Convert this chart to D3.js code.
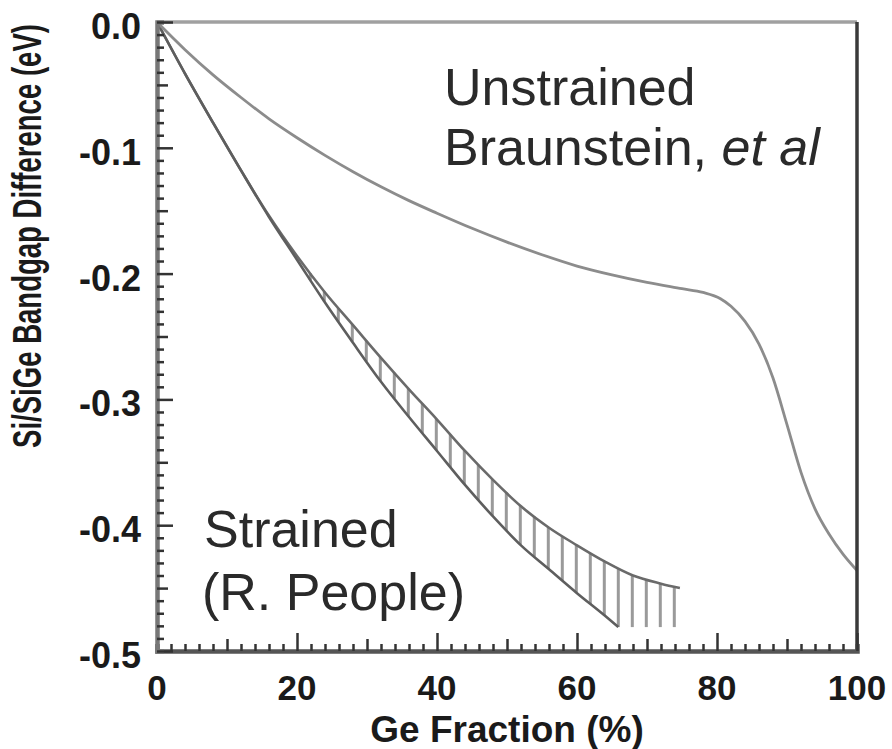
<!DOCTYPE html>
<html><head><meta charset="utf-8">
<script src="https://cdn.jsdelivr.net/npm/d3@7"></script>
<style>body{margin:0;background:#fff} svg{display:block}</style>
</head><body>
<script>
// ---- data ----
const xTickValues = [0, 20, 40, 60, 80, 100];
const xTickLabels = ["0", "20", "40", "60", "80", "100"];
const yTickValues = [0, -0.1, -0.2, -0.3, -0.4, -0.5];
const yTickLabels = ["0.0", "-0.1", "-0.2", "-0.3", "-0.4", "-0.5"];

// Unstrained (Braunstein, et al)
const unstrainedX = [0, 4, 8, 12, 16, 20, 24, 28, 32, 36, 40, 45, 50, 55, 60, 65, 70, 75, 78, 80.5, 82, 84, 86, 88, 90, 92, 94, 96, 98, 100];
const unstrainedY = [0, -0.022, -0.042, -0.060, -0.077, -0.092, -0.106, -0.119, -0.131, -0.142, -0.152, -0.164, -0.175, -0.185, -0.194, -0.201, -0.207, -0.212, -0.215, -0.220, -0.226, -0.238, -0.256, -0.283, -0.320, -0.358, -0.387, -0.407, -0.423, -0.436];

// Strained (R. People) band: upper and lower bounds
const strainedUpperX = [0, 4, 8, 12, 16, 20, 24, 28, 32, 36, 40, 44, 48, 52, 56, 60, 64, 68, 72, 74.7];
const strainedUpperY = [0, -0.041, -0.080, -0.118, -0.154, -0.186, -0.215, -0.241, -0.267, -0.292, -0.316, -0.341, -0.364, -0.385, -0.402, -0.416, -0.429, -0.440, -0.4465, -0.450];
const strainedLowerX = [0, 4, 8, 12, 16, 20, 24, 28, 32, 36, 40, 44, 48, 52, 56, 60, 64, 65.9];
const strainedLowerY = [0, -0.041, -0.080, -0.118, -0.155, -0.189, -0.223, -0.255, -0.286, -0.314, -0.341, -0.368, -0.393, -0.416, -0.435, -0.454, -0.472, -0.481];

// ---- chart ----
const W = 892, H = 749;
const svg = d3.select("body").append("svg").attr("width", W).attr("height", H);
const x = d3.scaleLinear().domain([0, 100]).range([157, 857]);
const y = d3.scaleLinear().domain([-0.5, 0]).range([651, 22]);

const font = "'Liberation Sans', Arial, Helvetica, sans-serif";

// band hatching
const upperF = xx => {
  const i = d3.bisectRight(strainedUpperX, xx) - 1;
  if (i >= strainedUpperX.length - 1) return strainedUpperY[strainedUpperY.length - 1];
  const t = (xx - strainedUpperX[i]) / (strainedUpperX[i + 1] - strainedUpperX[i]);
  return strainedUpperY[i] + t * (strainedUpperY[i + 1] - strainedUpperY[i]);
};
const lowerF = xx => {
  const n = strainedLowerX.length;
  if (xx >= strainedLowerX[n - 1]) return strainedLowerY[n - 1];
  const i = d3.bisectRight(strainedLowerX, xx) - 1;
  const t = (xx - strainedLowerX[i]) / (strainedLowerX[i + 1] - strainedLowerX[i]);
  return strainedLowerY[i] + t * (strainedLowerY[i + 1] - strainedLowerY[i]);
};
const hatchX = d3.range(21.9, 74.5, 2);
svg.append("g").selectAll("line").data(hatchX).join("line")
  .attr("x1", d => x(d)).attr("x2", d => x(d))
  .attr("y1", d => y(upperF(d))).attr("y2", d => y(lowerF(d)))
  .attr("stroke", "#9a9a9a").attr("stroke-width", 3);

const line = d3.line().x(d => x(d[0])).y(d => y(d[1])).curve(d3.curveMonotoneX);
svg.append("path").datum(d3.zip(strainedUpperX, strainedUpperY)).attr("d", line)
  .attr("fill", "none").attr("stroke", "#6a6a6a").attr("stroke-width", 2.6);
svg.append("path").datum(d3.zip(strainedLowerX, strainedLowerY)).attr("d", line)
  .attr("fill", "none").attr("stroke", "#5e5e5e").attr("stroke-width", 2.6);
svg.append("path").datum(d3.zip(unstrainedX, unstrainedY)).attr("d", line)
  .attr("fill", "none").attr("stroke", "#8c8c8c").attr("stroke-width", 2.8);

// frame
svg.append("line").attr("x1", x(0)).attr("x2", x(100)).attr("y1", y(0)).attr("y2", y(0))
  .attr("stroke", "#a0a0a0").attr("stroke-width", 3.5);
svg.append("line").attr("x1", x(100)).attr("x2", x(100)).attr("y1", y(0)).attr("y2", y(-0.5))
  .attr("stroke", "#3a3a3a").attr("stroke-width", 3.5);

// bottom axis ticks (inward)
const gx = svg.append("g").attr("transform", `translate(0,${y(-0.5)})`);
gx.call(d3.axisBottom(x).tickValues(d3.range(0, 101, 2)).tickSize(-7).tickFormat(""));
gx.call(g => g.selectAll(".tick line").attr("stroke", "#333").attr("stroke-width", 2.5)
  .attr("y2", d => (d % 20 === 0 ? -18 : d % 10 === 0 ? -12 : -7)));
gx.select(".domain").attr("stroke", "#555").attr("stroke-width", 4.5);

// left axis ticks (inward)
const gy = svg.append("g").attr("transform", `translate(${x(0)},0)`);
gy.call(d3.axisLeft(y).tickValues(d3.range(0, 51).map(i => -i / 100)).tickSize(-7).tickFormat(""));
gy.call(g => g.selectAll(".tick line").attr("stroke", "#333").attr("stroke-width", 2.5)
  .attr("x2", d => { const k = Math.round(-d * 100); return k % 10 === 0 ? 16 : k % 5 === 0 ? 11 : 7; }));
gy.select(".domain").attr("stroke", "#777").attr("stroke-width", 4.5);

// tick labels
svg.append("g").selectAll("text").data(xTickValues).join("text")
  .attr("x", d => x(d)).attr("y", 700).attr("text-anchor", "middle")
  .attr("font-family", font).attr("font-weight", "bold").attr("font-size", 35).attr("fill", "#1a1a1a")
  .text((d, i) => xTickLabels[i]);
svg.append("g").selectAll("text").data(yTickValues).join("text")
  .attr("x", 141).attr("y", d => y(d) + 17).attr("text-anchor", "end")
  .attr("font-family", font).attr("font-weight", "bold").attr("font-size", 36).attr("fill", "#1a1a1a")
  .text((d, i) => yTickLabels[i]);

// axis titles
svg.append("text").attr("x", 507).attr("y", 742).attr("text-anchor", "middle")
  .attr("font-family", font).attr("font-weight", "bold").attr("font-size", 37).attr("fill", "#1a1a1a")
  .text("Ge Fraction (%)");
const yTitle = svg.append("text").attr("text-anchor", "middle")
  .attr("font-family", font).attr("font-weight", "bold").attr("font-size", 40).attr("fill", "#1a1a1a")
  .text("Si/SiGe Bandgap Difference (eV)");
const natural = yTitle.node().getComputedTextLength() || 616;
const sx = 424 / natural;
yTitle.attr("transform", `translate(41,236) rotate(-90) scale(${sx},1)`);

// annotations
const ann = svg.append("g").attr("font-family", font).attr("font-size", 52).attr("fill", "#2a2a2a");
ann.append("text").attr("x", 444).attr("y", 105).text("Unstrained");
const t2 = ann.append("text").attr("x", 444).attr("y", 165);
t2.append("tspan").text("Braunstein, ");
t2.append("tspan").attr("font-style", "italic").text("et al");
ann.append("text").attr("x", 204).attr("y", 547).text("Strained");
ann.append("text").attr("x", 202).attr("y", 610).text("(R. People)");
</script>
</body></html>
